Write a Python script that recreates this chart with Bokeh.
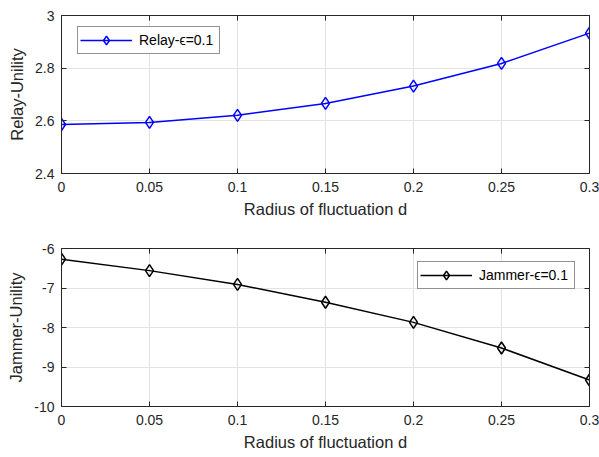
from bokeh.plotting import figure
from bokeh.layouts import column
from bokeh.models import LinearAxis, Legend, LegendItem, FixedTicker, Range1d
from bokeh.embed import file_html
from bokeh.resources import INLINE

d = [0, 0.05, 0.1, 0.15, 0.2, 0.25, 0.3]
relay = [2.586, 2.594, 2.621, 2.666, 2.732, 2.818, 2.933]
jammer = [-6.27, -6.56, -6.91, -7.36, -7.87, -8.52, -9.33]
x_ticks = [0, 0.05, 0.1, 0.15, 0.2, 0.25, 0.3]
x_labels = ["0", "0.05", "0.1", "0.15", "0.2", "0.25", "0.3"]
relay_ticks = [2.4, 2.6, 2.8, 3.0]
relay_labels = ["2.4", "2.6", "2.8", "3"]
jammer_ticks = [-10, -9, -8, -7, -6]
jammer_labels = ["-10", "-9", "-8", "-7", "-6"]

FONT = "Liberation Sans"
AX = "#262626"


def mirror_axis(ticks):
    return LinearAxis(ticker=FixedTicker(ticks=ticks),
                      major_label_overrides={t: "" for t in ticks},
                      major_label_text_font_size="1px",
                      major_tick_in=5, major_tick_out=0, minor_tick_in=0, minor_tick_out=0,
                      axis_line_color=AX, major_tick_line_color=AX, major_label_standoff=0)


def style(p, yt, yl, ylabel):
    p.xaxis.ticker = FixedTicker(ticks=x_ticks)
    p.xaxis.major_label_overrides = {t: l for t, l in zip(x_ticks, x_labels)}
    p.yaxis.ticker = FixedTicker(ticks=yt)
    p.yaxis.major_label_overrides = {t: l for t, l in zip(yt, yl)}
    p.xaxis.axis_label = "Radius of fluctuation d"
    p.yaxis.axis_label = ylabel
    for ax in p.xaxis + p.yaxis:
        ax.major_tick_in = 5
        ax.major_tick_out = 0
        ax.minor_tick_in = 0
        ax.minor_tick_out = 0
        ax.axis_line_color = AX
        ax.major_tick_line_color = AX
        ax.major_label_text_font = FONT
        ax.major_label_text_font_size = "14px"
        ax.major_label_text_color = "#262626"
        ax.axis_label_text_font = FONT
        ax.axis_label_text_font_size = "16.5px"
        ax.axis_label_text_font_style = "normal"
        ax.axis_label_text_color = "#262626"
    p.xaxis.major_label_standoff = 8
    p.xaxis.axis_label_standoff = 5
    p.yaxis.major_label_standoff = 7
    p.yaxis.axis_label_standoff = 6
    p.add_layout(mirror_axis(yt), "right")
    p.add_layout(mirror_axis(x_ticks), "above")
    p.grid.grid_line_color = "#e3e3e3"
    p.grid.grid_line_width = 1
    p.outline_line_color = None


p1 = figure(width=599, height=228, output_backend="svg", toolbar_location=None,
            x_range=Range1d(0, 0.3), y_range=Range1d(2.4, 3.0),
            min_border_left=61, min_border_right=10, min_border_top=15, min_border_bottom=55)
style(p1, relay_ticks, relay_labels, "Relay-Unility")
l1 = p1.line(d, relay, line_color="#0000ff", line_width=1.5)
s1 = p1.scatter(d, relay, marker="diamond", size=12, fill_color=None,
                line_color="#0000ff", line_width=1.5)
leg1 = Legend(items=[LegendItem(label="Relay-ϵ=0.1", renderers=[l1, s1])],
              location=(16, 119), label_width=78)

p2 = figure(width=599, height=229, output_backend="svg", toolbar_location=None,
            x_range=Range1d(0, 0.3), y_range=Range1d(-10, -6),
            min_border_left=61, min_border_right=10, min_border_top=20, min_border_bottom=51)
style(p2, jammer_ticks, jammer_labels, "Jammer-Unility")
l2 = p2.line(d, jammer, line_color="#000000", line_width=1.5)
s2 = p2.scatter(d, jammer, marker="diamond", size=12, fill_color=None,
                line_color="#000000", line_width=1.5)
leg2 = Legend(items=[LegendItem(label="Jammer-ϵ=0.1", renderers=[l2, s2])],
              location=(356, 117), label_width=93)

for p, leg in ((p1, leg1), (p2, leg2)):
    leg.label_text_font = FONT
    leg.label_text_font_size = "14px"
    leg.label_text_color = "#000000"
    leg.glyph_width = 52
    leg.glyph_height = 22
    leg.padding = 2
    leg.margin = 0
    leg.label_standoff = 7
    leg.border_line_color = "#262626"
    leg.border_line_width = 1
    leg.background_fill_color = "white"
    leg.background_fill_alpha = 1
    p.add_layout(leg, "center")

layout = column(p1, p2, spacing=0)
open("out.html", "w").write(file_html(layout, INLINE))
